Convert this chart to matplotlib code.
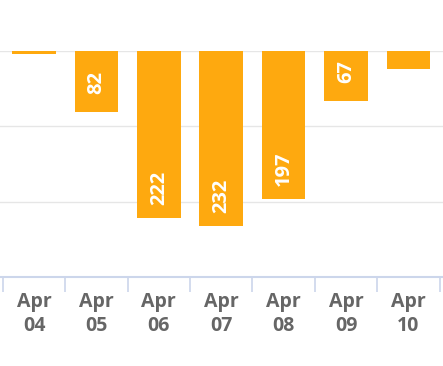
import matplotlib

matplotlib.use("Agg")
import matplotlib.pyplot as plt

# data
days = ["Apr\n04", "Apr\n05", "Apr\n06", "Apr\n07", "Apr\n08", "Apr\n09", "Apr\n10"]
values = [5, 82, 222, 232, 197, 67, 25]
shown = [False, True, True, True, True, True, False]

W, H, DPI = 443, 366, 100
plt.rcParams["font.family"] = ["Open Sans", "DejaVu Sans"]

fig = plt.figure(figsize=(W / DPI, H / DPI), dpi=DPI)
# plot area: zero line at y=50px, axis line at y=277px
top_px, bot_px = 50.5, 277
ax = fig.add_axes([0, (H - bot_px) / H, 1, (bot_px - top_px) / H])

x = list(range(len(values)))
ax.bar(x, values, width=0.70, color="#FEA90F", zorder=3)

for xi, v, s in zip(x, values, shown):
    if not s:
        continue
    ax.annotate(str(v), (xi, v), xytext=(0, 21.6), textcoords="offset points",
                rotation=90, ha="center", va="center", color="white",
                fontsize=14.5, fontweight="bold", zorder=4)

ax.set_xlim(-0.545, 6.554)
ax.set_ylim(300, 0)
ax.set_yticks([0, 100, 200, 300])
ax.yaxis.grid(True, color="#e6e6e6", linewidth=1.0, zorder=0)
ax.tick_params(axis="y", left=False, labelleft=False)

# labels in the middle of each category, tick marks on the boundaries
ax.set_xticks(x)
ax.set_xticklabels(days, fontsize=14, fontweight="bold", color="#666666",
                   linespacing=1.3)
ax.tick_params(axis="x", which="major", length=0, pad=10.5)
ax.set_xticks([i - 0.5 for i in range(len(values) + 1)], minor=True)
ax.tick_params(axis="x", which="minor", length=11, color="#ccd6eb", width=1.2)

for side in ["left", "right", "top"]:
    ax.spines[side].set_visible(False)
ax.spines["bottom"].set_color("#ccd6eb")
ax.spines["bottom"].set_linewidth(1.5)

fig.savefig("out.png", dpi=DPI)
